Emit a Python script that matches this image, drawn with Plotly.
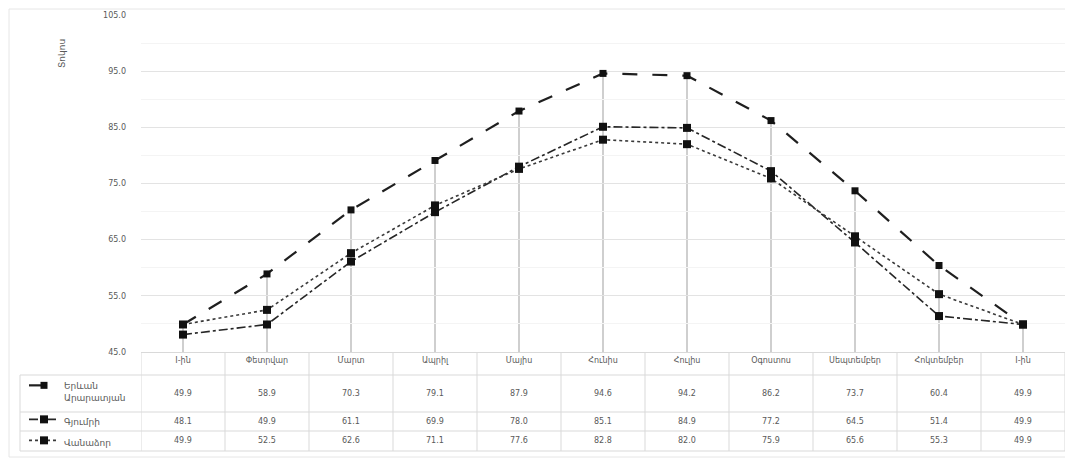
import plotly.graph_objects as go

# categories (x axis / table header)
categories = ["I-ին", "Փետրվար", "Մարտ", "Ապրիլ", "Մայիս", "Հունիս",
              "Հուլիս", "Օգոստոս", "Սեպտեմբեր", "Հոկտեմբեր", "I-ին"]

# series
series_names = ["Երևան<br>Արարատյան", "Գյումրի", "Վանաձոր"]
yerevan = [49.9, 58.9, 70.3, 79.1, 87.9, 94.6, 94.2, 86.2, 73.7, 60.4, 49.9]
gyumri = [48.1, 49.9, 61.1, 69.9, 78.0, 85.1, 84.9, 77.2, 64.5, 51.4, 49.9]
vanadzor = [49.9, 52.5, 62.6, 71.1, 77.6, 82.8, 82.0, 75.9, 65.6, 55.3, 49.9]

y_min, y_max, y_step = 45, 105, 10

# page body has an 8px margin, so the figure is drawn 8px smaller and
# positions below are given in screen pixels then shifted
OFF = 8
W, H = 1073 - OFF, 462 - OFF
ML, MR, MT, MB = 141 - OFF, 8, 15 - OFF, 110
PW, PH = W - ML - MR, H - MT - MB


def py_paper(py):
    return (H - MB - (py - OFF)) / PH


def px_paper(px):
    return (px - OFF - ML) / PW


FONT = "DejaVu Sans"
TXT = "#595959"
GRID = "#d9d9d9"

xs = list(range(len(categories)))
all_series = [yerevan, gyumri, vanadzor]
styles = [
    dict(dash="longdash", width=2.2, color="#1f1f1f", symbol="square", size=7),
    dict(dash="dashdot", width=1.6, color="#262626", symbol="square", size=8),
    dict(dash="dot", width=1.6, color="#3a3a3a", symbol="square", size=8),
]
legend_ids = ["legend", "legend2", "legend3"]
legend_tops = [373, 407, 428]

fig = go.Figure()
for name, vals, st, lg in zip(series_names, all_series, styles, legend_ids):
    fig.add_trace(go.Scatter(
        x=xs, y=vals, name=name, mode="lines+markers", legend=lg,
        line=dict(color=st["color"], width=st["width"], dash=st["dash"]),
        marker=dict(symbol=st["symbol"], size=st["size"], color="#111111"),
    ))

shapes = []
# drop lines from the highest series down to the axis
top = [max(v) for v in zip(*all_series)]
for x, t in zip(xs, top):
    shapes.append(dict(type="line", xref="x", yref="y", x0=x, x1=x, y0=y_min, y1=t,
                       line=dict(color="#cfcfcf", width=2), layer="below"))

# data table grid
row_lines = [375, 412, 431, 451]
table_left = px_paper(20)
for py in row_lines:
    shapes.append(dict(type="line", xref="paper", yref="paper",
                       x0=table_left, x1=1, y0=py_paper(py), y1=py_paper(py),
                       line=dict(color=GRID, width=1)))
for i in range(len(categories) + 1):
    shapes.append(dict(type="line", xref="x", yref="paper",
                       x0=i - 0.5, x1=i - 0.5, y0=0, y1=py_paper(451),
                       line=dict(color=GRID, width=1)))
shapes.append(dict(type="line", xref="paper", yref="paper",
                   x0=table_left, x1=table_left, y0=py_paper(375), y1=py_paper(451),
                   line=dict(color=GRID, width=1)))
# outer chart border
shapes.append(dict(type="rect", xref="paper", yref="paper",
                   x0=px_paper(9), x1=px_paper(1069),
                   y0=py_paper(457), y1=py_paper(9),
                   line=dict(color="#e6e6e6", width=1)))

annotations = []
row_centers = [393, 421, 441]
for vals, cy in zip(all_series, row_centers):
    for x, v in zip(xs, vals):
        annotations.append(dict(x=x, y=py_paper(cy), xref="x", yref="paper",
                                xanchor="center", yanchor="middle",
                                text=f"{v:.1f}", showarrow=False,
                                font=dict(family=FONT, size=8, color=TXT)))
annotations.append(dict(x=px_paper(62), y=py_paper(54), xref="paper", yref="paper",
                        xanchor="center", yanchor="middle",
                        text="Տոկոս", textangle=-90, showarrow=False,
                        font=dict(family=FONT, size=9, color=TXT)))

legend_style = dict(xanchor="left", yanchor="top", valign="top", tracegroupgap=0,
                    xref="container", yref="container",
                    font=dict(family=FONT, size=9, color=TXT), bgcolor="rgba(0,0,0,0)")
legends = {lg: dict(x=(24 - OFF) / W, y=1 - (t - OFF) / H, **legend_style)
           for lg, t in zip(legend_ids, legend_tops)}

fig.update_layout(
    width=W, height=H,
    margin=dict(l=ML, r=MR, t=MT, b=MB, autoexpand=False),
    paper_bgcolor="white", plot_bgcolor="white",
    font=dict(family=FONT, size=8, color=TXT),
    showlegend=True,
    shapes=shapes, annotations=annotations,
    **legends,
)
fig.update_xaxes(range=[-0.5, len(categories) - 0.5], tickvals=xs, ticktext=categories,
                 showgrid=False, zeroline=False, showline=True, linecolor=GRID,
                 automargin=False, tickfont=dict(family=FONT, size=8, color=TXT))
fig.update_yaxes(range=[y_min, y_max], tick0=y_min, dtick=y_step, tickformat=".1f",
                 showgrid=True, gridcolor="#e3e3e3", zeroline=False, automargin=False,
                 minor=dict(dtick=y_step / 2, showgrid=True, gridcolor="#f4f4f4"),
                 ticklabelstandoff=14, tickfont=dict(family=FONT, size=8, color=TXT))

fig.write_html("out.html")
